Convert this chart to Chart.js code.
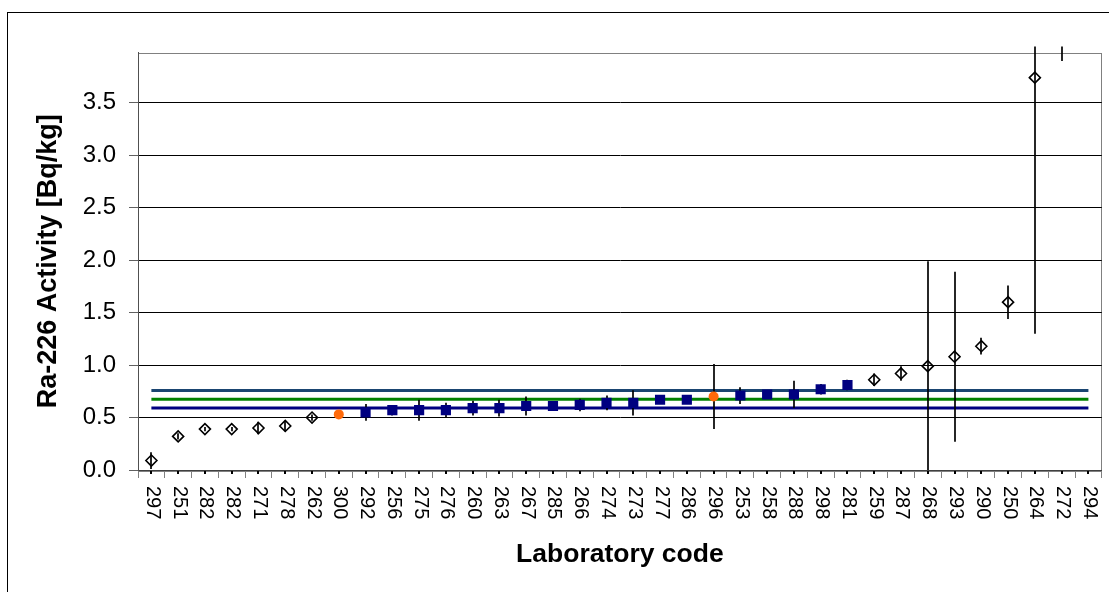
<!DOCTYPE html>
<html>
<head>
<meta charset="utf-8">
<script src="https://cdn.jsdelivr.net/npm/chart.js@4/dist/chart.umd.min.js"></script>
<style>
  html, body { margin: 0; padding: 0; background: #fff; }
  #wrap { width: 1109px; height: 592px; position: relative; }
</style>
</head>
<body>
<div id="wrap"><canvas id="c" width="1109" height="592"></canvas></div>
<script>
// Laboratory codes, in ascending order of reported activity
const labCodes = ['297','251','282','282','271','278','262','300','292','256','275','276',
                  '260','263','267','285','266','274','273','277','286','296','253','258',
                  '288','298','281','259','287','268','293','290','250','264','272','294'];

// Reported Ra-226 activity [Bq/kg] and its uncertainty
const activity = [0.09,0.32,0.39,0.39,0.40,0.42,0.50,0.53,0.55,0.57,0.57,0.57,
                  0.59,0.59,0.61,0.61,0.62,0.64,0.64,0.67,0.67,0.70,0.71,0.72,
                  0.72,0.77,0.81,0.86,0.92,0.99,1.08,1.18,1.60,3.74,4.50,null];
const uncertainty = [0.08,0.03,0.02,0.02,0.06,0.05,0.03,0.02,0.08,0.05,0.10,0.07,
                     0.07,0.08,0.09,0.04,0.06,0.07,0.12,0.02,0.02,0.31,0.08,0.03,
                     0.13,0.05,0.05,0.06,0.07,1.00,0.81,0.08,0.16,2.44,0.60,null];

// Marker group per laboratory: D = outside range, S = within range, C = flagged
const markerGroup = ['D','D','D','D','D','D','D','C','S','S','S','S',
                     'S','S','S','S','S','S','S','S','S','C','S','S',
                     'S','S','S','D','D','D','D','D','D','D','D','D'];

// Reference value and acceptance band
const upperLimit = 0.758;
const assignedValue = 0.675;
const lowerLimit = 0.590;

// Value axis
const yMin = 0, yMax = 3.98, yStep = 0.5;

const FONT = "'Liberation Sans', Arial, Helvetica, sans-serif";

const pick = g => activity.map((v, i) => markerGroup[i] === g ? v : null);
// horizontal band line spanning the first to the last laboratory
const flatLine = v => [{ x: labCodes[0], y: v }, { x: labCodes[labCodes.length - 1], y: v }];

const decor = {
  id: 'decor',
  beforeDraw(chart) {
    const { ctx, chartArea: a } = chart;
    ctx.save();
    // outer chart frame
    ctx.strokeStyle = '#000';
    ctx.lineWidth = 1;
    ctx.strokeRect(7.5, 12.5, 1400, 900);
    // plot area frame
    ctx.strokeStyle = '#808080';
    ctx.strokeRect(Math.round(a.left) + 0.5, Math.round(a.top) + 0.5,
                   Math.round(a.right - a.left) - 1, Math.round(a.bottom - a.top));
    ctx.restore();
  },
  beforeDatasetDraw(chart, args) {
    // uncertainty bars go under the markers but over the band lines
    if (chart.data.datasets[args.index].id !== 'outside') return;
    const { ctx, chartArea: a } = chart;
    const xs = chart.scales.x, ys = chart.scales.y;
    ctx.save();
    ctx.beginPath();
    ctx.rect(a.left, a.top - 6, a.right - a.left, a.bottom - a.top + 6);
    ctx.clip();
    ctx.strokeStyle = '#000';
    ctx.lineWidth = 1.7;
    activity.forEach((v, i) => {
      if (v === null || uncertainty[i] === null) return;
      const x = Math.round(xs.getPixelForValue(i));
      ctx.beginPath();
      ctx.moveTo(x, ys.getPixelForValue(v + uncertainty[i]));
      ctx.lineTo(x, ys.getPixelForValue(v - uncertainty[i]));
      ctx.stroke();
    });
    ctx.restore();
  },
  afterDraw(chart) {
    const { ctx, chartArea: a } = chart;
    const xs = chart.scales.x;
    ctx.save();
    // small marks under the axis at each category
    ctx.fillStyle = '#000';
    labCodes.forEach((c, i) => {
      const x = Math.round(xs.getPixelForValue(i));
      ctx.fillRect(x - 1, Math.round(a.bottom) + 1, 2, 3);
    });
    // category labels, rotated to read downward
    ctx.fillStyle = '#000';
    ctx.font = '20px ' + FONT;
    ctx.textAlign = 'left';
    ctx.textBaseline = 'middle';
    labCodes.forEach((c, i) => {
      const x = xs.getPixelForValue(i);
      ctx.save();
      ctx.translate(x + 1, a.bottom + 16);
      ctx.rotate(Math.PI / 2);
      ctx.fillText(c, 0, 0);
      ctx.restore();
    });
    ctx.restore();
  }
};

new Chart(document.getElementById('c'), {
  type: 'line',
  data: {
    labels: labCodes,
    datasets: [
      { id: 'upper', data: flatLine(upperLimit), borderColor: '#1a4571', borderWidth: 3,
        pointRadius: 0, order: 5 },
      { id: 'assigned', data: flatLine(assignedValue), borderColor: '#008000', borderWidth: 3,
        pointRadius: 0, order: 5 },
      { id: 'lower', data: flatLine(lowerLimit), borderColor: '#000080', borderWidth: 3,
        pointRadius: 0, order: 5 },
      { id: 'outside', data: pick('D'), showLine: false, pointStyle: 'rectRot', pointRadius: 5.5,
        pointBorderWidth: 1.6, pointBorderColor: '#000', pointBackgroundColor: 'rgba(255,255,255,0)',
        order: 2 },
      { id: 'within', data: pick('S'), showLine: false, pointStyle: 'rect', pointRadius: 7.2,
        pointBorderWidth: 0, pointBackgroundColor: '#000080', pointBorderColor: '#000080', order: 1 },
      { id: 'flagged', data: pick('C'), showLine: false, pointStyle: 'circle', pointRadius: 5,
        pointBorderWidth: 0, pointBackgroundColor: '#ff6a0a', pointBorderColor: '#ff6a0a', order: 0 }
    ]
  },
  options: {
    responsive: false,
    devicePixelRatio: 1,
    animation: false,
    layout: { padding: { top: 52.5, right: 2, left: 0, bottom: 0 } },
    plugins: { legend: { display: false }, tooltip: { enabled: false } },
    scales: {
      x: {
        type: 'category',
        offset: true,
        grid: { offset: true, drawOnChartArea: false, drawTicks: true, tickLength: 8,
                tickColor: '#808080', color: '#808080' },
        border: { color: '#404040', width: 1 },
        ticks: { display: false },
        title: { display: true, text: 'Laboratory code', color: '#000',
                 font: { family: FONT, size: 26.5, weight: 'bold' }, padding: { top: 0, bottom: 21 } },
        afterFit(s) { s.height = 122; }
      },
      y: {
        min: yMin, max: yMax,
        ticks: { stepSize: yStep, includeBounds: false, padding: 13, color: '#000',
                 font: { family: FONT, size: 24 }, callback: v => Number(v).toFixed(1) },
        grid: { color: '#000', lineWidth: 1, tickLength: 9, tickColor: '#606060' },
        border: { color: '#505050', width: 1 },
        title: { display: true, text: 'Ra-226 Activity [Bq/kg]', color: '#000',
                 font: { family: FONT, size: 27, weight: 'bold' }, padding: { top: 32, bottom: 0 } },
        afterFit(s) { s.width = 138; }
      }
    }
  },
  plugins: [decor]
});
</script>
</body>
</html>
